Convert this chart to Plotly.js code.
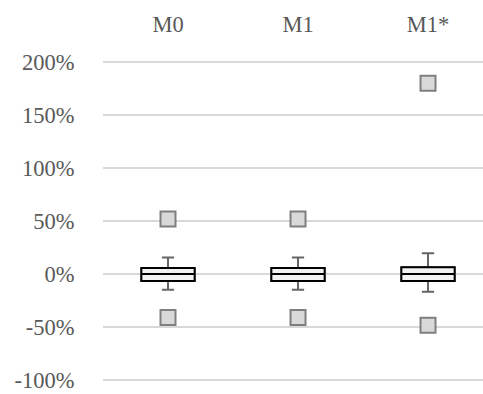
<!DOCTYPE html>
<html>
<head>
<meta charset="utf-8">
<script src="https://cdn.plot.ly/plotly-3.0.1.min.js"></script>
<style>html,body{margin:0;padding:0;background:#fff;}#chart{width:483px;height:394px;}</style>
</head>
<body>
<div id="chart"></div>
<script>
const categories = ['M0', 'M1', 'M1*'];
const q1Values = [-6.7, -6.7, -6.7];
const medianValues = [0, 0, 0];
const q3Values = [5.7, 5.7, 6.3];
const lowerWhisker = [-15, -15, -16.7];
const upperWhisker = [15.6, 15.6, 19.6];
const outlierCats = ['M0', 'M0', 'M1', 'M1', 'M1*', 'M1*'];
const outlierValues = [52, -41, 52, -41, 180, -48.5];
const yTickVals = [-100, -50, 0, 50, 100, 150, 200];
const yTickText = ['-100%', '-50%', '0%', '50%', '100%', '150%', '200%'];

const font = {family: 'Liberation Serif, Times New Roman, serif', size: 22.5, color: '#595959'};

const whiskers = {
  type: 'box', x: categories,
  q1: q1Values, median: medianValues, q3: q3Values,
  lowerfence: lowerWhisker, upperfence: upperWhisker,
  width: 0.41, whiskerwidth: 0.23,
  line: {color: '#666666', width: 2},
  fillcolor: 'rgba(0,0,0,0)',
  boxpoints: false, showlegend: false, hoverinfo: 'skip'
};
const boxes = {
  type: 'box', x: categories,
  q1: q1Values, median: medianValues, q3: q3Values,
  lowerfence: q1Values, upperfence: q3Values,
  width: 0.41, whiskerwidth: 0.23,
  line: {color: '#000000', width: 2},
  fillcolor: '#f2f2f2',
  boxpoints: false, showlegend: false, hoverinfo: 'skip'
};
const outliers = {
  type: 'scatter', mode: 'markers', x: outlierCats, y: outlierValues,
  marker: {symbol: 'square', size: 15, color: '#d9d9d9', line: {color: '#7f7f7f', width: 2}},
  showlegend: false, hoverinfo: 'skip'
};

const layout = {
  width: 483, height: 394,
  margin: {l: 103, r: 0, t: 60, b: 12, pad: 0},
  paper_bgcolor: '#ffffff', plot_bgcolor: '#ffffff',
  font: font,
  boxmode: 'overlay',
  hovermode: false,
  xaxis: {
    type: 'category', categoryorder: 'array', categoryarray: categories,
    side: 'top', range: [-0.5, 2.423],
    showgrid: false, zeroline: false, showline: false,
    ticks: 'outside', ticklen: 18, tickcolor: 'rgba(0,0,0,0)',
    tickfont: font, ticklabeloverflow: 'allow'
  },
  yaxis: {
    range: [-102, 202],
    tickvals: yTickVals, ticktext: yTickText,
    showgrid: true, gridcolor: '#d9d9d9', gridwidth: 1.5,
    zeroline: false, showline: false,
    ticks: 'outside', ticklen: 23, tickcolor: 'rgba(0,0,0,0)',
    tickfont: font, ticklabeloverflow: 'allow'
  }
};

Plotly.newPlot('chart', [whiskers, boxes, outliers], layout, {displayModeBar: false, staticPlot: true});
</script>
</body>
</html>
